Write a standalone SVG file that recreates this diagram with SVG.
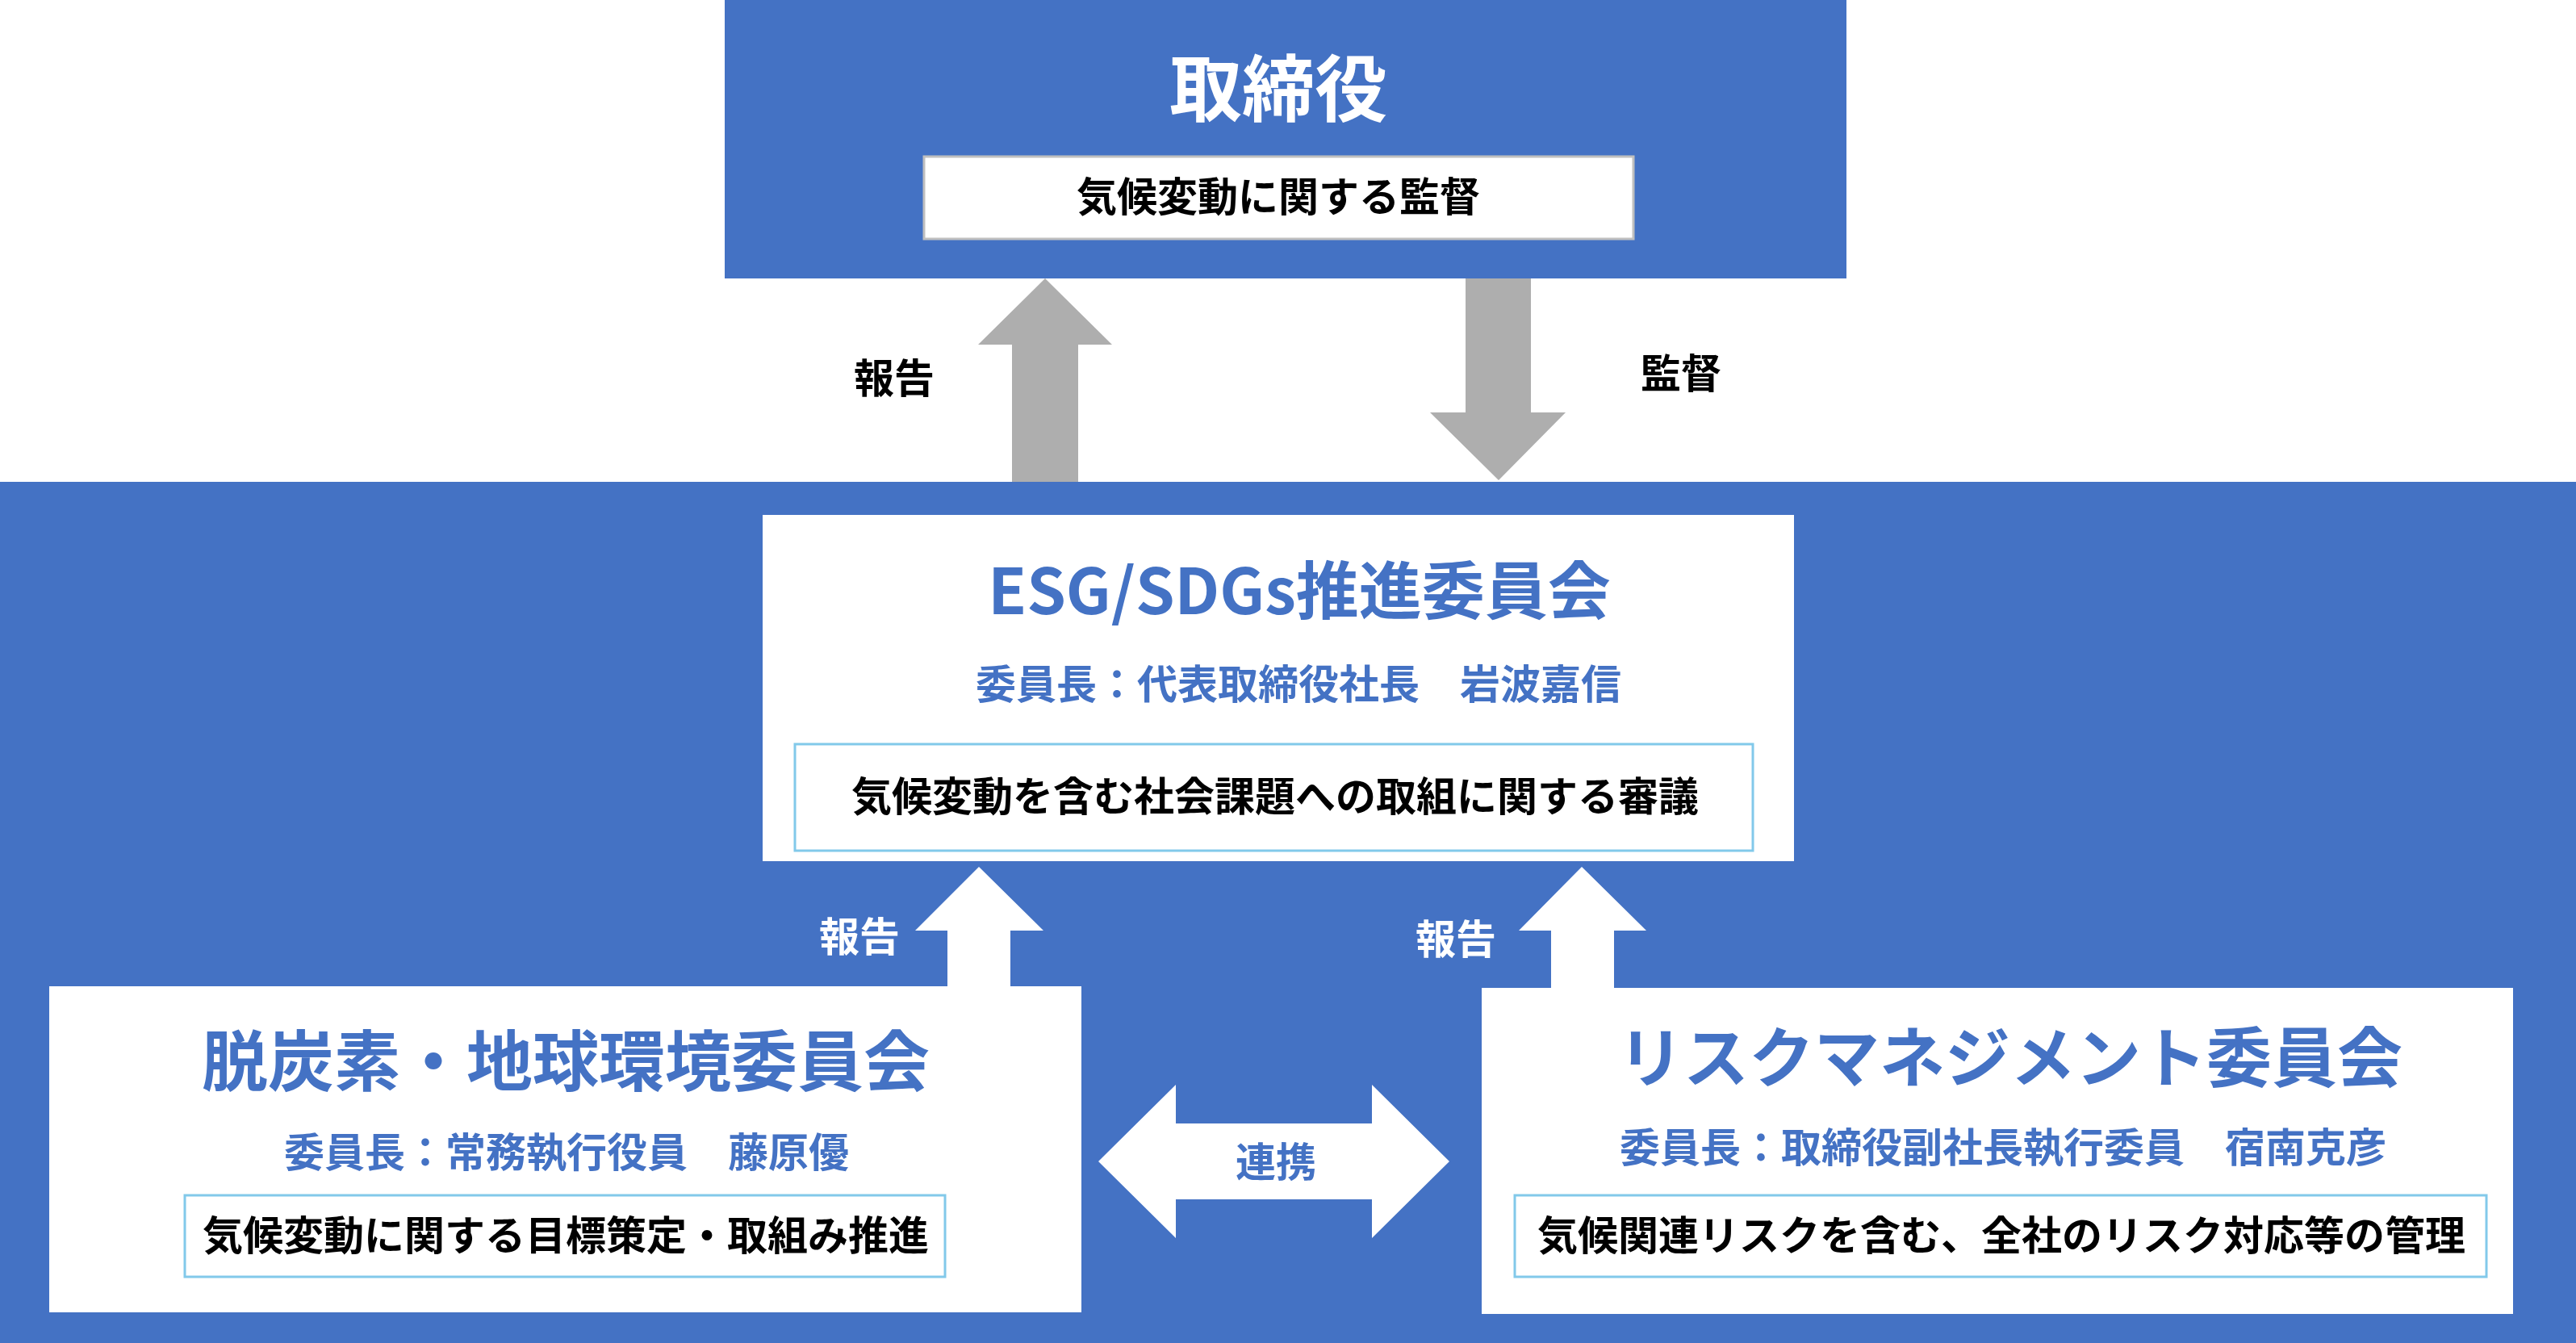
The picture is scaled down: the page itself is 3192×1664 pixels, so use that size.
<svg xmlns="http://www.w3.org/2000/svg" width="3192" height="1664" viewBox="0 0 3192 1664">
<style>
text{font-family:"Noto Sans CJK JP","Noto Sans CJK SC",sans-serif;font-weight:bold;text-anchor:middle;dominant-baseline:central}
.blue{fill:#4472c4}
.white{fill:#ffffff}
.gray{fill:#aeaeae}
.t-blue{fill:#4472c4}
.t-black{fill:#000000}
.t-white{fill:#ffffff}
.inner{fill:#ffffff;stroke:#82c9ea;stroke-width:3}
.inner-gray{fill:#ffffff;stroke:#bfbfbf;stroke-width:3}
</style>
<rect x="0" y="0" width="3192" height="1664" fill="#ffffff"/>
<rect id="background" class="blue" x="0" y="597" width="3192" height="1067"/>
<g id="board">
<rect class="blue" x="898" y="0" width="1390" height="345"/>
<text class="t-white" x="1584" y="104" font-size="90">取締役</text>
<rect class="inner-gray" x="1145" y="194" width="879" height="102"/>
<text class="t-black" x="1584" y="240" font-size="50">気候変動に関する監督</text>
</g>
<g id="esg">
<rect class="white" x="945" y="638" width="1278" height="429"/>
<text class="t-blue" x="1610" y="727" font-size="78">ESG/SDGs推進委員会</text>
<text class="t-blue" x="1609" y="844" font-size="50">委員長：代表取締役社長　岩波嘉信</text>
<rect class="inner" x="985" y="922" width="1187" height="132"/>
<text class="t-black" x="1580" y="983" font-size="50">気候変動を含む社会課題への取組に関する審議</text>
</g>
<g id="decarbon">
<rect class="white" x="61" y="1222" width="1279" height="404"/>
<text class="t-blue" x="701" y="1309" font-size="82">脱炭素・地球環境委員会</text>
<text class="t-blue" x="702" y="1424" font-size="50">委員長：常務執行役員　藤原優</text>
<rect class="inner" x="229" y="1481" width="942" height="101"/>
<text class="t-black" x="701" y="1527" font-size="50">気候変動に関する目標策定・取組み推進</text>
</g>
<g id="risk">
<rect class="white" x="1836" y="1224" width="1278" height="404"/>
<text class="t-blue" x="2491" y="1304" font-size="81">リスクマネジメント委員会</text>
<text class="t-blue" x="2482" y="1418" font-size="50">委員長：取締役副社長執行委員　宿南克彦</text>
<rect class="inner" x="1877" y="1481" width="1204" height="101"/>
<text class="t-black" x="2480" y="1527" font-size="50">気候関連リスクを含む、全社のリスク対応等の管理</text>
</g>
<g id="connectors">
<polygon class="gray" points="1254,597 1254,427 1212,427 1295,345 1378,427 1336,427 1336,597"/>
<text class="t-black" x="1108" y="465" font-size="50">報告</text>
<polygon class="gray" points="1816,345 1897,345 1897,511 1940,511 1857,595 1772,511 1816,511"/>
<text class="t-black" x="2083" y="459" font-size="50">監督</text>
<polygon class="white" points="1174,1222 1174,1153 1134,1153 1213,1074 1293,1153 1252,1153 1252,1222"/>
<text class="t-white" x="1065" y="1157" font-size="50">報告</text>
<polygon class="white" points="1922,1224 1922,1153 1882,1153 1960,1074 2040,1153 2000,1153 2000,1224"/>
<text class="t-white" x="1804" y="1160" font-size="50">報告</text>
<polygon class="white" points="1361,1439 1457,1344 1457,1392 1700,1392 1700,1344 1796,1439 1700,1534 1700,1486 1457,1486 1457,1534"/>
<text class="t-blue" x="1581" y="1436" font-size="50">連携</text>
</g>
</svg>
